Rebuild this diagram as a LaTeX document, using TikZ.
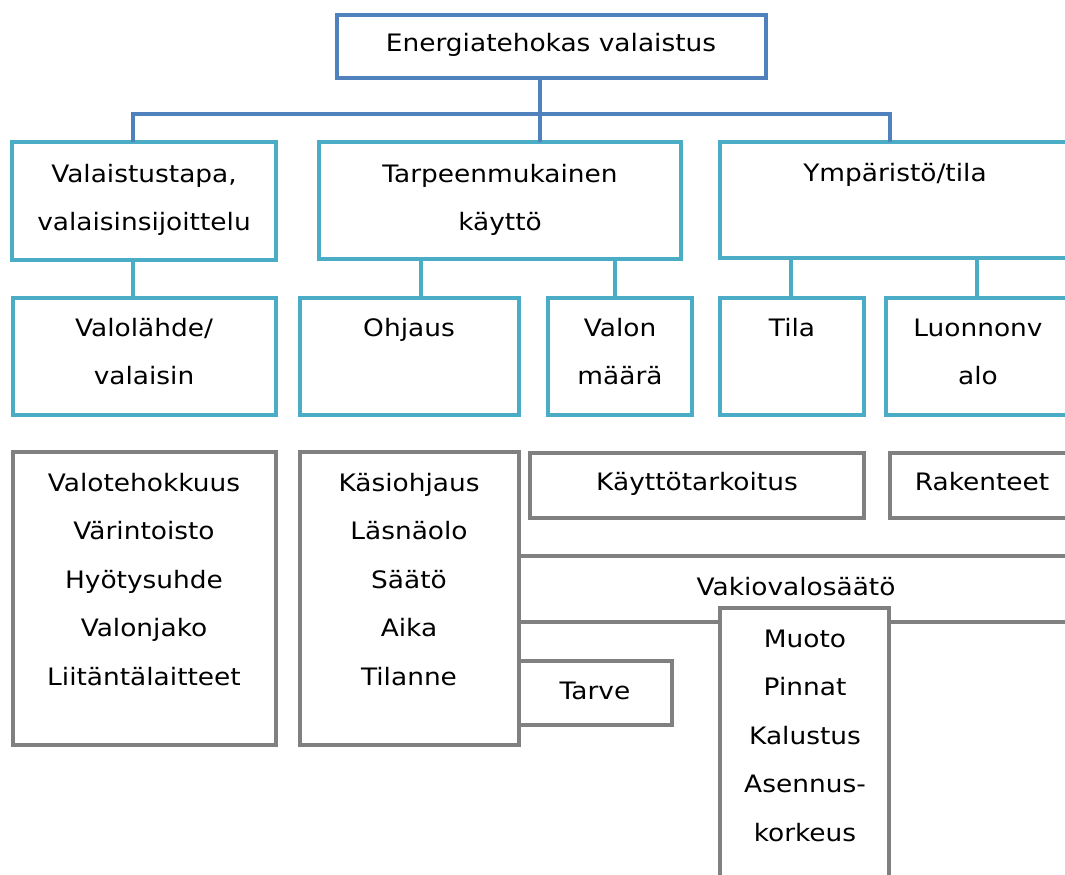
\documentclass[tikz,border=0pt]{standalone}
\usepackage{fontspec}
\setmainfont{DejaVu Sans}[FakeStretch=1.1]
\definecolor{topblue}{HTML}{4F81BD}
\definecolor{aqua}{HTML}{4BACC6}
\definecolor{boxgray}{HTML}{808080}
\newcommand{\mlines}[1]{\begin{tabular}[t]{@{}c@{}}#1\end{tabular}}
\newcommand{\rbox}[6]{%
  \node[#1, minimum width={(#5-#3)*1pt}, minimum height={(#6-#4)*1pt}] (#2) at ({(#3+#5)/2},{(#4+#6)/2}) {};}
\begin{document}
\begin{tikzpicture}[x=1pt,y=-1pt,
  bx/.style={draw, line width=4.6pt, fill=white, inner sep=0pt, outer sep=0pt},
  topbox/.style={bx, draw=topblue},
  aquabox/.style={bx, draw=aqua},
  graybox/.style={bx, draw=boxgray},
  txt/.style={anchor=base, inner sep=0pt, font=\fontsize{24}{48.5}\selectfont},
  blueline/.style={draw=topblue, line width=4.6pt},
  aqualine/.style={draw=aqua, line width=4.6pt}]
\useasboundingbox (0,0) rectangle (1065,875);
\clip (0,0) rectangle (1065,875);
\fill[white] (0,0) rectangle (1065,875);

% boxes
\rbox{topbox}{top}{337}{15}{766}{78}
\rbox{aquabox}{L1a}{12}{142}{276}{260}
\rbox{aquabox}{L1b}{319}{142}{681}{259}
\rbox{aquabox}{L1c}{720}{142}{1071}{258}
\rbox{aquabox}{L2a}{13}{298}{276}{415}
\rbox{aquabox}{L2b}{300}{298}{519}{415}
\rbox{aquabox}{L2c}{548}{298}{692}{415}
\rbox{aquabox}{L2d}{720}{298}{864}{415}
\rbox{aquabox}{L2e}{886}{298}{1071}{415}
\rbox{graybox}{G1}{13}{452}{276}{745}
\rbox{graybox}{G3}{530}{453}{864}{518}
\rbox{graybox}{G4}{890}{453}{1075}{518}
\rbox{graybox}{G5}{519}{556}{1073}{622}
\rbox{graybox}{G6}{519}{661}{672}{725}
\rbox{graybox}{G2}{300}{452}{519}{745}
\rbox{graybox}{G7}{720}{608}{889}{885}

% connectors
\coordinate (busL) at (133,114);
\coordinate (busM) at (540,114);
\coordinate (busR) at (890,114);
\draw[blueline] (top.south -| busM) -- (L1b.north -| busM);
\draw[blueline] (L1a.north -| busL) -- (busL) -- (busR) -- (L1c.north -| busR);
\coordinate (k1) at (133,280);
\coordinate (k2) at (421,280);
\coordinate (k3) at (615,280);
\coordinate (k4) at (791,280);
\coordinate (k5) at (977,280);
\draw[aqualine] (L1a.south -| k1) -- (L2a.north -| k1);
\draw[aqualine] (L1b.south -| k2) -- (L2b.north -| k2);
\draw[aqualine] (L1b.south -| k3) -- (L2c.north -| k3);
\draw[aqualine] (L1c.south -| k4) -- (L2d.north -| k4);
\draw[aqualine] (L1c.south -| k5) -- (L2e.north -| k5);

% texts
\node[txt] (tTop) at (551,52) {Energiatehokas valaistus};
\node[txt] (tA) at (144,182) {\mlines{Valaistustapa,\\valaisinsijoittelu}};
\node[txt] (tB) at (500,182) {\mlines{Tarpeenmukainen\\käyttö}};
\node[txt] (tC) at (895,181) {Ympäristö/tila};
\node[txt] (tD) at (144,336) {\mlines{Valolähde/\\valaisin}};
\node[txt] (tE) at (409,336) {Ohjaus};
\node[txt] (tF) at (620,336) {\mlines{Valon\\määrä}};
\node[txt] (tG) at (792,336) {Tila};
\node[txt] (tH) at (978,336) {\mlines{Luonnonv\\alo}};
\node[txt] (tI) at (144,491) {\mlines{Valotehokkuus\\Värintoisto\\Hyötysuhde\\Valonjako\\Liitäntälaitteet}};
\node[txt] (tJ) at (409,491) {\mlines{Käsiohjaus\\Läsnäolo\\Säätö\\Aika\\Tilanne}};
\node[txt] (tK) at (697,490) {Käyttötarkoitus};
\node[txt] (tL) at (982,490) {Rakenteet};
\node[txt] (tM) at (796,595) {Vakiovalosäätö};
\node[txt] (tN) at (595,699) {Tarve};
\node[txt] (tO) at (805,647) {\mlines{Muoto\\Pinnat\\Kalustus\\Asennus-\\korkeus}};
\end{tikzpicture}
\end{document}
